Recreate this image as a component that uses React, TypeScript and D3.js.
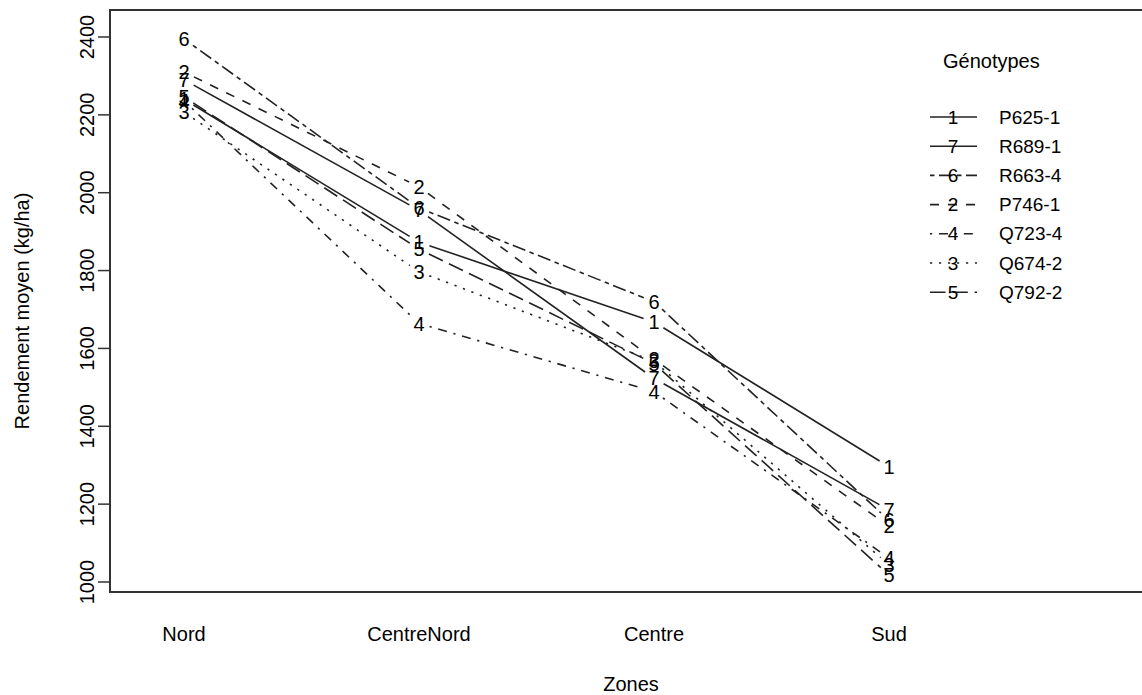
import React from "react";
import * as d3 from "d3";

const zones = ["Nord", "CentreNord", "Centre", "Sud"];
const genotypes = ["P625-1", "P746-1", "Q674-2", "Q723-4", "Q792-2", "R663-4", "R689-1"];
const symbols = ["1", "2", "3", "4", "5", "6", "7"];
// values per genotype across zones (Nord, CentreNord, Centre, Sud)
const vP625_1 = [2240, 1873, 1668, 1296];
const vP746_1 = [2310, 2015, 1572, 1143];
const vQ674_2 = [2207, 1797, 1567, 1044];
const vQ723_4 = [2236, 1664, 1489, 1061];
const vQ792_2 = [2246, 1855, 1561, 1018];
const vR663_4 = [2395, 1961, 1720, 1158];
const vR689_1 = [2290, 1955, 1523, 1185];
const series = [vP625_1, vP746_1, vQ674_2, vQ723_4, vQ792_2, vR663_4, vR689_1];
const legendOrder = [0, 6, 5, 1, 3, 2, 4];
const yTicks = [1000, 1200, 1400, 1600, 1800, 2000, 2200, 2400];

// R lty 1..7 (7 wraps to solid)
const dashes = ["none", "9 9", "2.2 6.8", "2.2 6.8 9 6.8", "15.5 6.8", "4.5 4.5 13.5 4.5", "none"];

const W = 1142, H = 695;
const FONT = "Liberation Sans, Arial, sans-serif";

export default function App() {
  const x = d3.scaleLinear().domain([1, 4]).range([184, 889]);
  const y = d3.scaleLinear().domain([1000, 2400]).range([582, 37]);
  const gap = 11;
  const ink = "#222";

  const segs: JSX.Element[] = [];
  series.forEach((vals, gi) => {
    for (let i = 0; i < vals.length - 1; i++) {
      const x1 = x(i + 1), y1 = y(vals[i]), x2 = x(i + 2), y2 = y(vals[i + 1]);
      const dx = x2 - x1, dy = y2 - y1, len = Math.hypot(dx, dy);
      const ux = dx / len, uy = dy / len;
      segs.push(
        <line key={`s${gi}-${i}`} x1={x1 + ux * gap} y1={y1 + uy * gap} x2={x2 - ux * gap} y2={y2 - uy * gap}
          stroke={ink} strokeWidth={1.6} strokeDasharray={dashes[gi]} />
      );
    }
  });

  const plotLeft = 110, plotTop = 10, plotBottom = 592;

  return (
    <svg width={W} height={H} style={{ position: "absolute", left: 0, top: 0, background: "#fff" }} fontFamily={FONT}>
      <rect x={0} y={0} width={W} height={H} fill="#fff" />
      {/* box */}
      <path d={`M${W + 5},${plotTop}H${plotLeft}V${plotBottom}H${W + 5}`} fill="none" stroke="#333" strokeWidth={2} />
      {/* y axis */}
      {yTicks.map((t) => (
        <g key={t}>
          <line x1={plotLeft - 12} x2={plotLeft} y1={y(t)} y2={y(t)} stroke="#333" strokeWidth={1.5} />
          <text transform={`translate(${87},${y(t)}) rotate(-90)`} textAnchor="middle" fontSize={20} fill="#000" dy="0.35em">{t}</text>
        </g>
      ))}
      <text transform={`translate(22,311) rotate(-90)`} textAnchor="middle" fontSize={20} dy="0.35em">Rendement moyen (kg/ha)</text>
      {/* x labels */}
      {zones.map((z, i) => (
        <text key={z} x={x(i + 1)} y={634} textAnchor="middle" dy="0.35em" fontSize={20}>{z}</text>
      ))}
      <text x={631} y={684} textAnchor="middle" dy="0.35em" fontSize={20}>Zones</text>
      {/* lines */}
      {segs}
      {/* point labels */}
      {series.map((vals, gi) =>
        vals.map((v, i) => (
          <text key={`p${gi}-${i}`} x={x(i + 1)} y={y(v)} textAnchor="middle" dy="0.35em" fontSize={20} fill="#000">{symbols[gi]}</text>
        ))
      )}
      {/* legend */}
      <text x={943} y={61} dy="0.35em" fontSize={20}>Génotypes</text>
      {legendOrder.map((gi, k) => {
        const ly = 117 + k * 29.2;
        return (
          <g key={`l${gi}`}>
            <line x1={930} x2={977} y1={ly} y2={ly} stroke={ink} strokeWidth={1.6} strokeDasharray={dashes[gi]} />
            <text x={953} y={ly} textAnchor="middle" dy="0.35em" fontSize={19}>{symbols[gi]}</text>
            <text x={999} y={ly} dy="0.35em" fontSize={19}>{genotypes[gi]}</text>
          </g>
        );
      })}
    </svg>
  );
}
